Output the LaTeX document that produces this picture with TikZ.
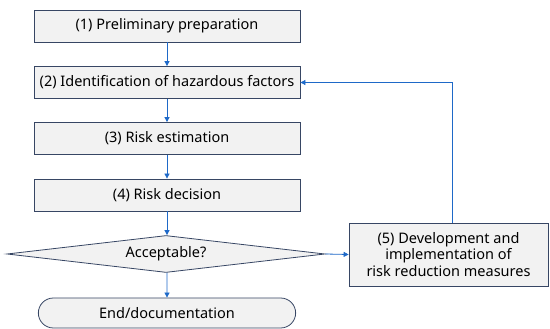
\documentclass[tikz,border=0pt]{standalone}
\usepackage{fontspec}
\setmainfont{Noto Sans}
\usetikzlibrary{arrows.meta,shapes.geometric,shapes.misc}
\definecolor{boxline}{RGB}{55,70,100}
\definecolor{boxfill}{RGB}{242,242,242}
\definecolor{flow}{RGB}{30,105,200}
\begin{document}
\begin{tikzpicture}[x=1pt, y=1pt,
		b/.style = {rectangle, draw=boxline, fill=boxfill, thick, minimum width=266, minimum height=32, font=\fontsize{14.5}{17}\selectfont},
		d/.style = {diamond, draw=boxline, fill=boxfill, thick, aspect=8, inner sep=0pt, minimum width=318, minimum height=37, font=\fontsize{14.5}{17}\selectfont},
		e/.style = {rounded rectangle, draw=boxline, fill=boxfill, thick, minimum width=264, minimum height=30, font=\fontsize{14.5}{17}\selectfont},
		m/.style = {rectangle, draw=boxline, fill=boxfill, thick, minimum width=199, minimum height=63, inner sep=1pt, align=center, font=\fontsize{14.5}{16.5}\selectfont},
		r/.style = {-{Triangle[length=5pt,width=5pt]}, draw=flow, thick},
		]
		\useasboundingbox (0, 0) rectangle (550, 329);
		
		%Nodes
		\node[b]	(prep)	at	(167, 303)	{(1) Preliminary preparation};
		\node[b]	(hazard)	at	(167, 246.5)	{(2) Identification of hazardous factors};
		\node[b]	(estim)	at	(167, 190.5)	{(3) Risk estimation};
		\node[b]	(decide)	at	(167, 134)	{(4) Risk decision};
		\node[d]	(accept)	at	(166, 75)	{Acceptable?};
		\node[e]	(finish)	at	(167, 16)	{End/documentation};
		\node[m]	(reduce)	at	(448.5, 74.5)	{(5) Development and\\implementation of\\risk reduction measures};
		
		%Lines
		\draw[r]	(prep)	to	(hazard);
		\draw[r]	(hazard)	to	(estim);
		\draw[r]	(estim)	to	(decide);
		\draw[r]	(decide)	to	(decide |- accept.north);
		\draw[r]	(accept.south -| finish)	to	(finish);
		\draw[r]	(accept.east)	to	(reduce.west);
		\draw[r]	([xshift=3.5pt]reduce.north)	|-	(hazard.east);
		
	\end{tikzpicture}
\end{document}
